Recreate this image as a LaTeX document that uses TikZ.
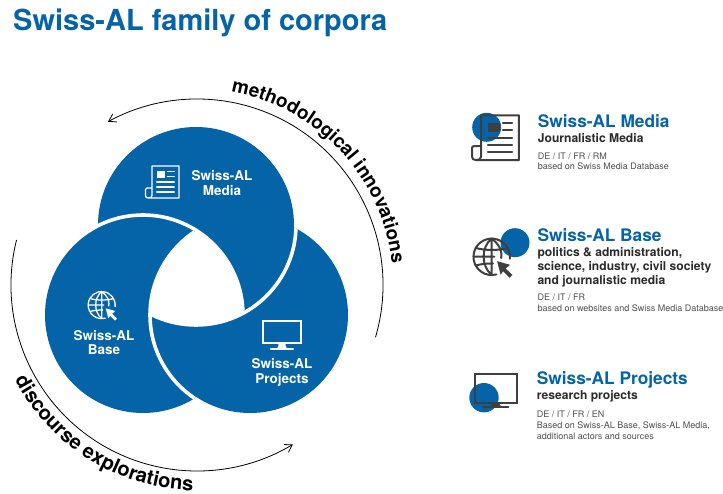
\documentclass[tikz,border=0pt]{standalone}
\usepackage{fontspec}
\setmainfont{TeX Gyre Heros}
\usetikzlibrary{arrows.meta,decorations.text}
\definecolor{swissblue}{HTML}{0563A8}
\definecolor{icondark}{HTML}{3F3F3F}
\definecolor{subdark}{HTML}{2A2A2A}
\definecolor{smallgray}{HTML}{505050}
\newcommand{\fs}[1]{\fontsize{#1}{#1}\selectfont}
\newcommand{\pathMedia}{(196,268) circle[radius=98]}
\newcommand{\pathBase}{(143,178) circle[radius=98]}
\newcommand{\pathProj}{(250,178) circle[radius=98]}
\tikzset{
  discfill/.style={fill=swissblue,draw=none},
  band/.style={draw=white,line width=3.6pt},
  disclabel/.style={text=white,font=\bfseries\fs{13.5},align=center,anchor=base,inner sep=0pt},
  toptitle/.style={text=swissblue,font=\bfseries\fs{17.3},anchor=base west,inner sep=0pt},
  subtitle/.style={text=subdark,font=\bfseries\fs{12.1},anchor=base west,inner sep=0pt},
  smalltext/.style={text=smallgray,font=\fs{9},anchor=base west,inner sep=0pt},
  iconbg/.style={fill=swissblue,draw=none},
  orbit/.style={draw=black,line width=0.8pt},
  orbittip/.style={-{Straight Barb[length=7pt,width=9pt,line width=0.8pt]}},
  pics/newsicon/.style 2 args={code={
    \draw[draw=#1,line width=#2,line join=round,line cap=round]
      (-13.5,-6) -- (-18.5,-6) .. controls (-19.5,-6) and (-20,-6.5) .. (-20,-7.5)
      -- (-20,-13.5) .. controls (-20,-15.2) and (-19,-16) .. (-17,-16)
      -- (13.5,-16) -- (13.5,16) -- (-13.5,16) -- (-13.5,-13.5)
      .. controls (-13.5,-15.2) and (-15,-16) .. (-17,-16);
    \fill[#1] (-8.7,3.8) rectangle (-0.3,10.5);
    \draw[draw=#1,line width=#2,line cap=round]
      (2,10.5) -- (8.7,10.5) (2,5.5) -- (8.7,5.5)
      (-8.7,0) -- (8.7,0) (-8.7,-5) -- (8.7,-5) (-8.7,-10) -- (8.7,-10);
  }},
  pics/globeicon/.style 2 args={code={
    \draw[draw=#1,line width=#2,line cap=round] (13.4,-1.5) arc[start angle=-6,end angle=285,radius=13.5];
    \draw[draw=#1,line width=#2,line cap=round]
      (0,13.5) .. controls (-8,7) and (-8,-7) .. (0,-13.5)
      (0,13.5) .. controls (8,7) and (7.5,2) .. (7,-1)
      (0,13.5) -- (0,-13.5)
      (-12,6.5) .. controls (-5,4.5) and (5,4.5) .. (12,6.5)
      (-13.5,0) -- (2,0)
      (-12,-6.5) .. controls (-8,-5.5) and (-4,-5) .. (1,-5);
    \fill[#1] (4,-3.3) -- (13.5,-6) -- (10.4,-8.8) -- (15.4,-13.6) -- (13.2,-15.6) -- (8.4,-10.8) -- (6.6,-13.4) -- cycle;
  }},
  pics/screenicon/.style n args={5}{code={
    \draw[draw=#4,line width=#5,line join=miter] (-#1,-#2) rectangle (#1,#2);
    \fill[#4] (-3.5,-#2) -- (3.5,-#2) .. controls (3.5,-#2-#3+1) and (5,-#2-#3+1) .. (6,-#2-#3+0.5)
       -- (-6,-#2-#3+0.5) .. controls (-5,-#2-#3+1) and (-3.5,-#2-#3+1) .. (-3.5,-#2) -- cycle;
    \draw[draw=#4,line width=#5,line cap=round] (-#1*0.6,-#2-#3) -- (#1*0.6,-#2-#3);
  }},
}
\begin{document}
\begin{tikzpicture}[x=1pt,y=1pt]
\useasboundingbox[fill=white] (0,0) rectangle (723,493);
\node[text=swissblue,font=\bfseries\fs{29},anchor=base west,inner sep=0pt] (head) at (13,462) {Swiss-AL family of corpora};

% discs
\fill[discfill] \pathMedia;
\fill[discfill] \pathProj;
\fill[discfill] \pathBase;
\begin{scope}\clip \pathMedia; \draw[band] (143,178) circle[radius=100]; \end{scope}
\begin{scope}\clip \pathBase; \draw[band] (250,178) circle[radius=100]; \end{scope}
\begin{scope}\clip \pathProj; \draw[band] (196,268) circle[radius=100]; \end{scope}
\begin{scope}
  \clip (196,268) circle[radius=100];
  \clip (143,178) circle[radius=100];
  \fill[white] (250,178) circle[radius=100];
\end{scope}

% orbit arrows
\coordinate (hub) at (197,208);
\draw[orbit,orbittip] (hub) ++(-16.3:186) arc[start angle=-16.3,end angle=118.6,radius=186];
\draw[orbit,orbittip] (hub) ++(166:186) arc[start angle=166,end angle=301,radius=186];
\path[decorate,decoration={text along path,text align=left,
  text={|\bfseries\fs{19}|methodological innovations}}]
  (hub) ++(80:196) arc[start angle=80,end angle=2,radius=196];
\path[decorate,decoration={text along path,text align=left,
  text={|\bfseries\fs{20.1}|discourse explorations}}]
  (hub) ++(207.5:205.5) arc[start angle=207.5,end angle=275,radius=205.5];

% disc content
\pic at (165.5,311) {newsicon={white}{1.3pt}};
\node[disclabel] (lm1) at (222,312.3) {Swiss-AL};
\node[disclabel] (lm2) at (222,297.7) {Media};
\pic at (101.7,188) {globeicon={white}{1.3pt}};
\node[disclabel] (lb1) at (104,152.3) {Swiss-AL};
\node[disclabel] (lb2) at (104,138) {Base};
\pic at (282,161) {screenicon={18.8}{11.2}{6}{white}{1.5pt}};
\node[disclabel] (lp1) at (282,124.7) {Swiss-AL};
\node[disclabel] (lp2) at (282,109.7) {Projects};

% right: media
\fill[iconbg] (486.7,365.7) circle[radius=14.5];
\pic[scale=1.4] at (500,355.3) {newsicon={icondark}{2pt}};
\node[toptitle] (t1) at (537.7,365) {Swiss-AL Media};
\node[subtitle] (s1) at (537.7,350.5) {Journalistic Media};
\node[smalltext] (a1) at (537.7,333.5) {DE / IT / FR / RM};
\node[smalltext] (b1) at (537.7,323) {based on Swiss Media Database};

% right: base
\fill[iconbg] (515,250.3) circle[radius=14.5];
\pic[scale=1.35] at (491.7,236.3) {globeicon={icondark}{2pt}};
\node[toptitle] (t2) at (537.3,251) {Swiss-AL Base};
\node[subtitle] (s2a) at (537.3,236) {politics \& administration,};
\node[subtitle] (s2b) at (537.3,222) {science, industry, civil society};
\node[subtitle] (s2c) at (537.3,208.2) {and journalistic media};
\node[smalltext] (a2) at (537.3,192) {DE / IT / FR};
\node[smalltext] (b2) at (537.3,181) {based on websites and Swiss Media Database};

% right: projects
\fill[iconbg] (484,95.3) circle[radius=14.7];
\pic at (495.8,104.2) {screenicon={20.8}{14.5}{3.4}{icondark}{2.2pt}};
\node[toptitle] (t3) at (536.7,108) {Swiss-AL Projects};
\node[subtitle] (s3) at (536.7,94) {research projects};
\node[smalltext] (a3) at (536.7,75.5) {DE / IT / FR / EN};
\node[smalltext] (b3a) at (536.7,64.5) {Based on Swiss-AL Base, Swiss-AL Media,};
\node[smalltext] (b3b) at (536.7,54) {additional actors and sources};
\end{tikzpicture}
\end{document}
